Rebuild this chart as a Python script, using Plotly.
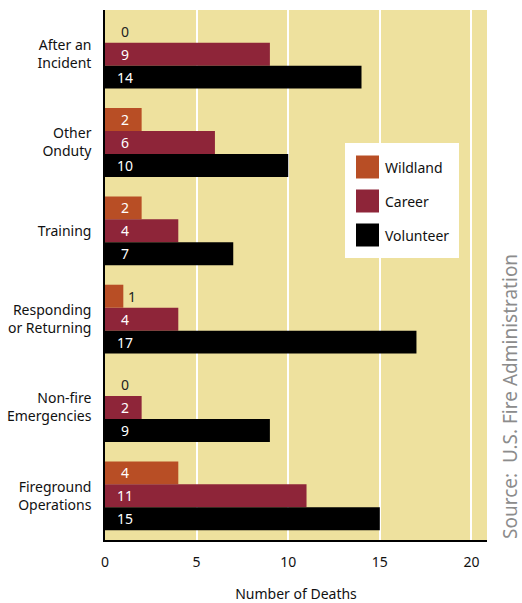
import plotly.graph_objects as go

categories = [
    "After an<br>Incident",
    "Other<br>Onduty",
    "Training",
    "Responding<br>or Returning",
    "Non-fire<br>Emergencies",
    "Fireground<br>Operations",
]
wildland = [0, 2, 2, 1, 0, 4]
career = [9, 6, 4, 4, 2, 11]
volunteer = [14, 10, 7, 17, 9, 15]

series = [
    ("Wildland", wildland, "#B84E25"),
    ("Career", career, "#8E2539"),
    ("Volunteer", volunteer, "#000000"),
]

FONT = "Noto Sans, sans-serif"
FS = 14
BARGAP = 0.22

fig = go.Figure()
for name, vals, color in series:
    fig.add_trace(go.Bar(
        name=name, y=categories, x=vals, orientation="h",
        marker=dict(color=color, line=dict(width=0)),
        showlegend=False,
    ))

# value labels near the start of each bar
annotations = []
slot = (1 - BARGAP) / 3
for k, (name, vals, color) in enumerate(series):
    offset = (k - 1) * slot
    for i, v in enumerate(vals):
        inside = v >= 2
        annotations.append(dict(
            x=1.07 if inside else max(1.07, v + 0.5), y=i + offset, xref="x", yref="y",
            text=str(v), showarrow=False, xanchor="center", yanchor="middle",
            font=dict(family=FONT, size=FS, color="white" if inside else "#222222"),
        ))

# legend box
PX0, PW, PB, PH = 105, 382, 540, 530
def px(x):
    return (x - PX0) / PW
def py(y):
    return (PB - y) / PH

shapes = [dict(type="rect", xref="paper", yref="paper",
               x0=px(345), x1=px(459), y0=py(258), y1=py(143),
               fillcolor="white", line=dict(width=0), layer="above")]
for k, (name, vals, color) in enumerate(series):
    yc = 167 + k * 34
    shapes.append(dict(type="rect", xref="paper", yref="paper",
                       x0=px(356), x1=px(379), y0=py(yc + 11.5), y1=py(yc - 11.5),
                       fillcolor=color, line=dict(width=0), layer="above"))
    annotations.append(dict(
        x=px(383), y=py(yc), xref="paper", yref="paper",
        text=name, showarrow=False, xanchor="left", yanchor="middle",
        font=dict(family=FONT, size=FS, color="#111111"),
    ))

annotations.append(dict(
    x=px(510), y=py(397), xref="paper", yref="paper",
    text="Source:  U.S. Fire Administration",
    showarrow=False, textangle=-90, xanchor="center", yanchor="middle",
    font=dict(family=FONT, size=19, color="#8c8c8c"),
))

fig.update_layout(
    width=522, height=603,
    margin=dict(l=105, r=35, t=10, b=63),
    paper_bgcolor="white", plot_bgcolor="#EEE19E",
    barmode="group", bargap=BARGAP, bargroupgap=0,
    font=dict(family=FONT, size=FS, color="#111111"),
    xaxis=dict(
        range=[0, 20.85], tickvals=[0, 5, 10, 15, 20],
        showgrid=True, gridcolor="white", gridwidth=1.5,
        zeroline=False, showline=True, linecolor="black", linewidth=1.5,
        ticks="outside", ticklen=8, tickcolor="rgba(0,0,0,0)",
        tickfont=dict(family=FONT, size=FS, color="#111111"),
        title=dict(text="Number of Deaths", font=dict(family=FONT, size=FS, color="#111111"), standoff=20),
        automargin=False, fixedrange=True,
    ),
    yaxis=dict(
        categoryorder="array", categoryarray=categories, autorange="reversed",
        showgrid=False, zeroline=False, showline=True, linecolor="black", linewidth=1.5,
        ticks="outside", ticklen=9, tickcolor="rgba(0,0,0,0)",
        tickfont=dict(family=FONT, size=FS, color="#111111"),
        automargin=False, fixedrange=True,
    ),
    shapes=shapes,
    annotations=annotations,
)

fig.write_html("out.html")
